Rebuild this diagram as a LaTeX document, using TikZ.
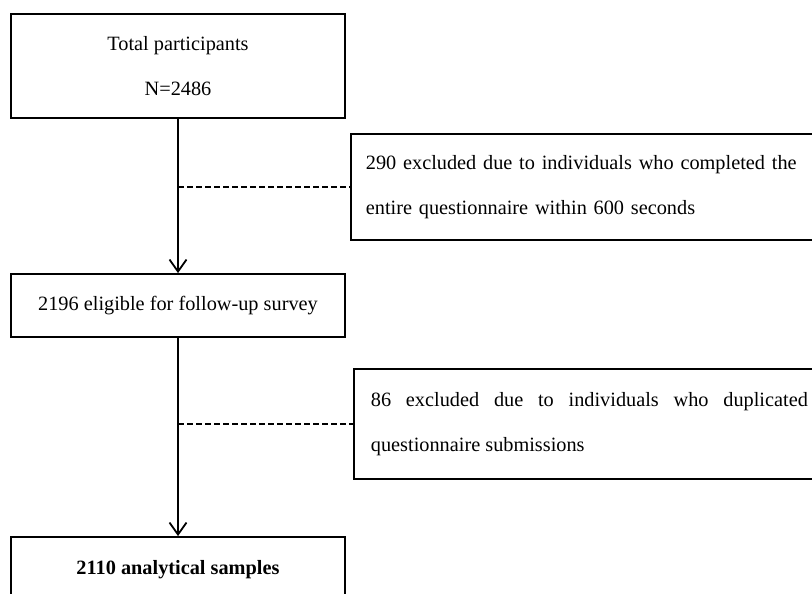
\documentclass[tikz,border=0pt]{standalone}
\usepackage{fontspec}
\setmainfont{Liberation Serif}
\usetikzlibrary{arrows.meta}

\begin{document}
\begin{tikzpicture}[x=1pt, y=-1pt, line width=1.8pt,
    >={Straight Barb[length=12pt, width=17pt]},
    font=\fontsize{20.3}{45}\selectfont,
    flowbox/.style={draw, minimum width=334pt, inner sep=0pt, align=center},
    exclbox/.style={draw, anchor=west, align=left},
    dashlink/.style={dash pattern=on 6pt off 3pt}]
  \def\Xmid{178}     % centre line of the main boxes
  \def\Xexcl{350}    % left edge of the exclusion boxes

  \useasboundingbox (0,0) rectangle (812,594);
  \clip (0,0) rectangle (812,594);

  % ----- main boxes -----
  \node[flowbox, minimum height=104pt] (total) at (\Xmid,66)
    {Total participants\\N=2486};
  \node[flowbox, minimum height=63pt] (eligible) at (\Xmid,305.5)
    {2196 eligible for follow-up survey};
  \node[flowbox, minimum height=66pt] (final) at (\Xmid,570)
    {\bfseries 2110 analytical samples};

  % ----- exclusions -----
  \node[exclbox, minimum height=106pt, text width=450pt, inner xsep=15pt]
    (excl1) at (\Xexcl,187)
    {290 excluded due to individuals who completed the\\
     entire questionnaire within 600 seconds};
  \node[exclbox, minimum height=110pt, text width=437pt, inner xsep=17pt,
    align=justify] (excl2) at (\Xexcl+3,424)
    {86 excluded due to individuals who duplicated\linebreak
     questionnaire submissions};

  % ----- links -----
  \draw[->] (total) -- (eligible);
  \draw[->] (eligible) -- (final);
  \draw[dashlink] (total.south |- excl1.west) -- (excl1.west);
  \draw[dashlink] (eligible.south |- excl2.west) -- (excl2.west);
\end{tikzpicture}
\end{document}
